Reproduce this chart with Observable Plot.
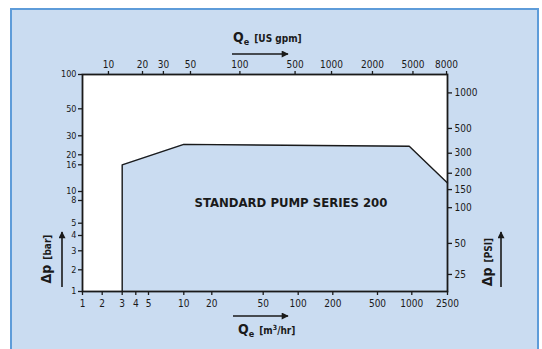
<!DOCTYPE html>
<html><head><meta charset="utf-8">
<script src="https://cdn.jsdelivr.net/npm/d3@7"></script>
<script src="https://cdn.jsdelivr.net/npm/@observablehq/plot@0.6"></script>
<style>
html,body{margin:0;padding:0;background:#fff;}
body{width:542px;height:349px;overflow:hidden;position:relative;font-family:"DejaVu Sans Condensed","Liberation Sans Narrow",sans-serif;color:#1a1a1a;}
#panel{position:absolute;left:10px;top:8px;width:529px;height:350px;background:#cadcf1;border:2px solid #5e9cd9;box-sizing:border-box;}
#chart{position:absolute;left:0;top:0;}
#deco{position:absolute;left:0;top:0;}
.lbl{position:absolute;font-weight:bold;white-space:nowrap;line-height:1;}
.q{font-size:14px;}
.q sub{font-size:9px;vertical-align:-3px;}
.u{font-size:10px;}
.u sup{font-size:7px;vertical-align:4px;}
</style></head><body>
<div id="panel"></div>
<div id="chart"></div>
<svg id="deco" width="542" height="349">
  <defs><marker id="ah" viewBox="0 0 10 10" refX="9" refY="5" markerWidth="9" markerHeight="7" orient="auto" markerUnits="userSpaceOnUse">
    <path d="M0,0 L10,5 L0,10 Z" fill="#1a1a1a"/></marker></defs>
  <line x1="232" y1="54" x2="288" y2="54" stroke="#1a1a1a" stroke-width="1.6" marker-end="url(#ah)"/>
  <line x1="233" y1="316" x2="288" y2="316" stroke="#1a1a1a" stroke-width="1.6" marker-end="url(#ah)"/>
  <line x1="62" y1="287" x2="62" y2="232" stroke="#1a1a1a" stroke-width="1.6" marker-end="url(#ah)"/>
  <line x1="501" y1="287" x2="501" y2="232" stroke="#1a1a1a" stroke-width="1.6" marker-end="url(#ah)"/>
</svg>
<div class="lbl" style="left:233px;top:29px;"><span class="q">Q<sub>e</sub></span> <span class="u">[US gpm]</span></div>
<div class="lbl" style="left:238px;top:321px;"><span class="q">Q<sub>e</sub></span> <span class="u">[m<sup>3</sup>/hr]</span></div>
<div class="lbl" style="left:46px;top:259px;transform:translate(-50%,-50%) rotate(-90deg);"><span class="q">&Delta;p</span> <span class="u">[bar]</span></div>
<div class="lbl" style="left:487px;top:262px;transform:translate(-50%,-50%) rotate(-90deg);"><span class="q">&Delta;p</span> <span class="u">[PSI]</span></div>
<script>
// Bottom axis: flow in m3/hr
const xTicks = [1, 2, 3, 4, 5, 10, 20, 50, 100, 200, 500, 1000, 2500];
// Left axis: differential pressure in bar
const yTicks = [1, 2, 3, 4, 5, 8, 10, 16, 20, 30, 50, 100];
// Right axis: PSI labels
const psiTicks = [25, 50, 100, 150, 200, 300, 500, 1000];
const BAR_PER_PSI = 1 / 14.5038;
// Top axis: US gpm labels and where they sit (in m3/hr)
const gpmTicks = [10, 20, 30, 50, 100, 500, 1000, 2000, 5000, 8000];
const gpmAtM3 = [2.27, 4.5, 6.7, 11.8, 33, 94, 195, 451, 1030, 2440];
// Operating envelope (flow m3/hr, pressure bar)
const envQ = [3, 3, 10, 950, 2500];
const envP = [1, 16, 25, 24, 11.6];
const seriesLabel = "STANDARD PUMP SERIES 200";

const env = envQ.map((q, i) => ({q, p: envP[i]}));
const psi = psiTicks.map(p => ({v: p * BAR_PER_PSI, t: String(p)}));
const gpm = gpmAtM3.map((v, i) => ({v, t: String(gpmTicks[i])}));
const ink = "#1a1a1a";
const fill = "#cadcf1";
const font = '"DejaVu Sans Condensed","Liberation Sans Narrow",sans-serif';
const blank = () => "";

const chart = Plot.plot({
  width: 542, height: 349,
  marginLeft: 82, marginRight: 95, marginTop: 74, marginBottom: 58,
  style: {background: "transparent", fontFamily: font, fontSize: "10px", color: ink, overflow: "visible"},
  x: {type: "log", domain: xTicks, range: [82, 101.7, 121.7, 135.3, 148, 183.3, 211.3, 262.7, 297.7, 332.3, 377, 411.3, 447]},
  y: {type: "log", domain: yTicks, range: [291, 269.3, 250.3, 235, 222.7, 200, 191, 164.3, 154.3, 135.3, 108.3, 74]},
  marks: [
    Plot.frame({fill: "white", stroke: "none"}),
    Plot.areaY(env, {x: "q", y1: 1, y2: "p", fill: fill, curve: "linear"}),
    Plot.line(env, {x: "q", y: "p", stroke: ink, strokeWidth: 1.4}),
    Plot.frame({stroke: ink, strokeWidth: 1.8}),
    Plot.axisX({anchor: "bottom", ticks: xTicks, tickFormat: blank, tickSize: 4, label: null, strokeWidth: 1.3}),
    Plot.axisX({anchor: "top", ticks: gpmAtM3, tickFormat: blank, tickSize: 4, label: null, strokeWidth: 1.3}),
    Plot.axisY({anchor: "left", ticks: yTicks, tickFormat: blank, tickSize: 4, label: null, strokeWidth: 1.3}),
    Plot.axisY({anchor: "right", ticks: psi.map(d => d.v), tickFormat: blank, tickSize: 4, label: null, strokeWidth: 1.3}),
    Plot.text(xTicks, {x: d => d, frameAnchor: "bottom", dy: 15, text: d => String(d), fill: ink}),
    Plot.text(gpm, {x: "v", frameAnchor: "top", dy: -14, text: "t", fill: ink}),
    Plot.text(yTicks, {y: d => d, frameAnchor: "left", dx: -6, textAnchor: "end", text: d => String(d), fill: ink, fontSize: 9}),
    Plot.text(psi, {y: "v", frameAnchor: "right", dx: 7, textAnchor: "start", text: "t", fill: ink}),
    Plot.text([seriesLabel], {text: d => d, frameAnchor: "middle", dx: 26, dy: 20, fontSize: 13, fontWeight: "bold", fill: ink})
  ]
});
document.getElementById("chart").appendChild(chart);
</script>
</body></html>
